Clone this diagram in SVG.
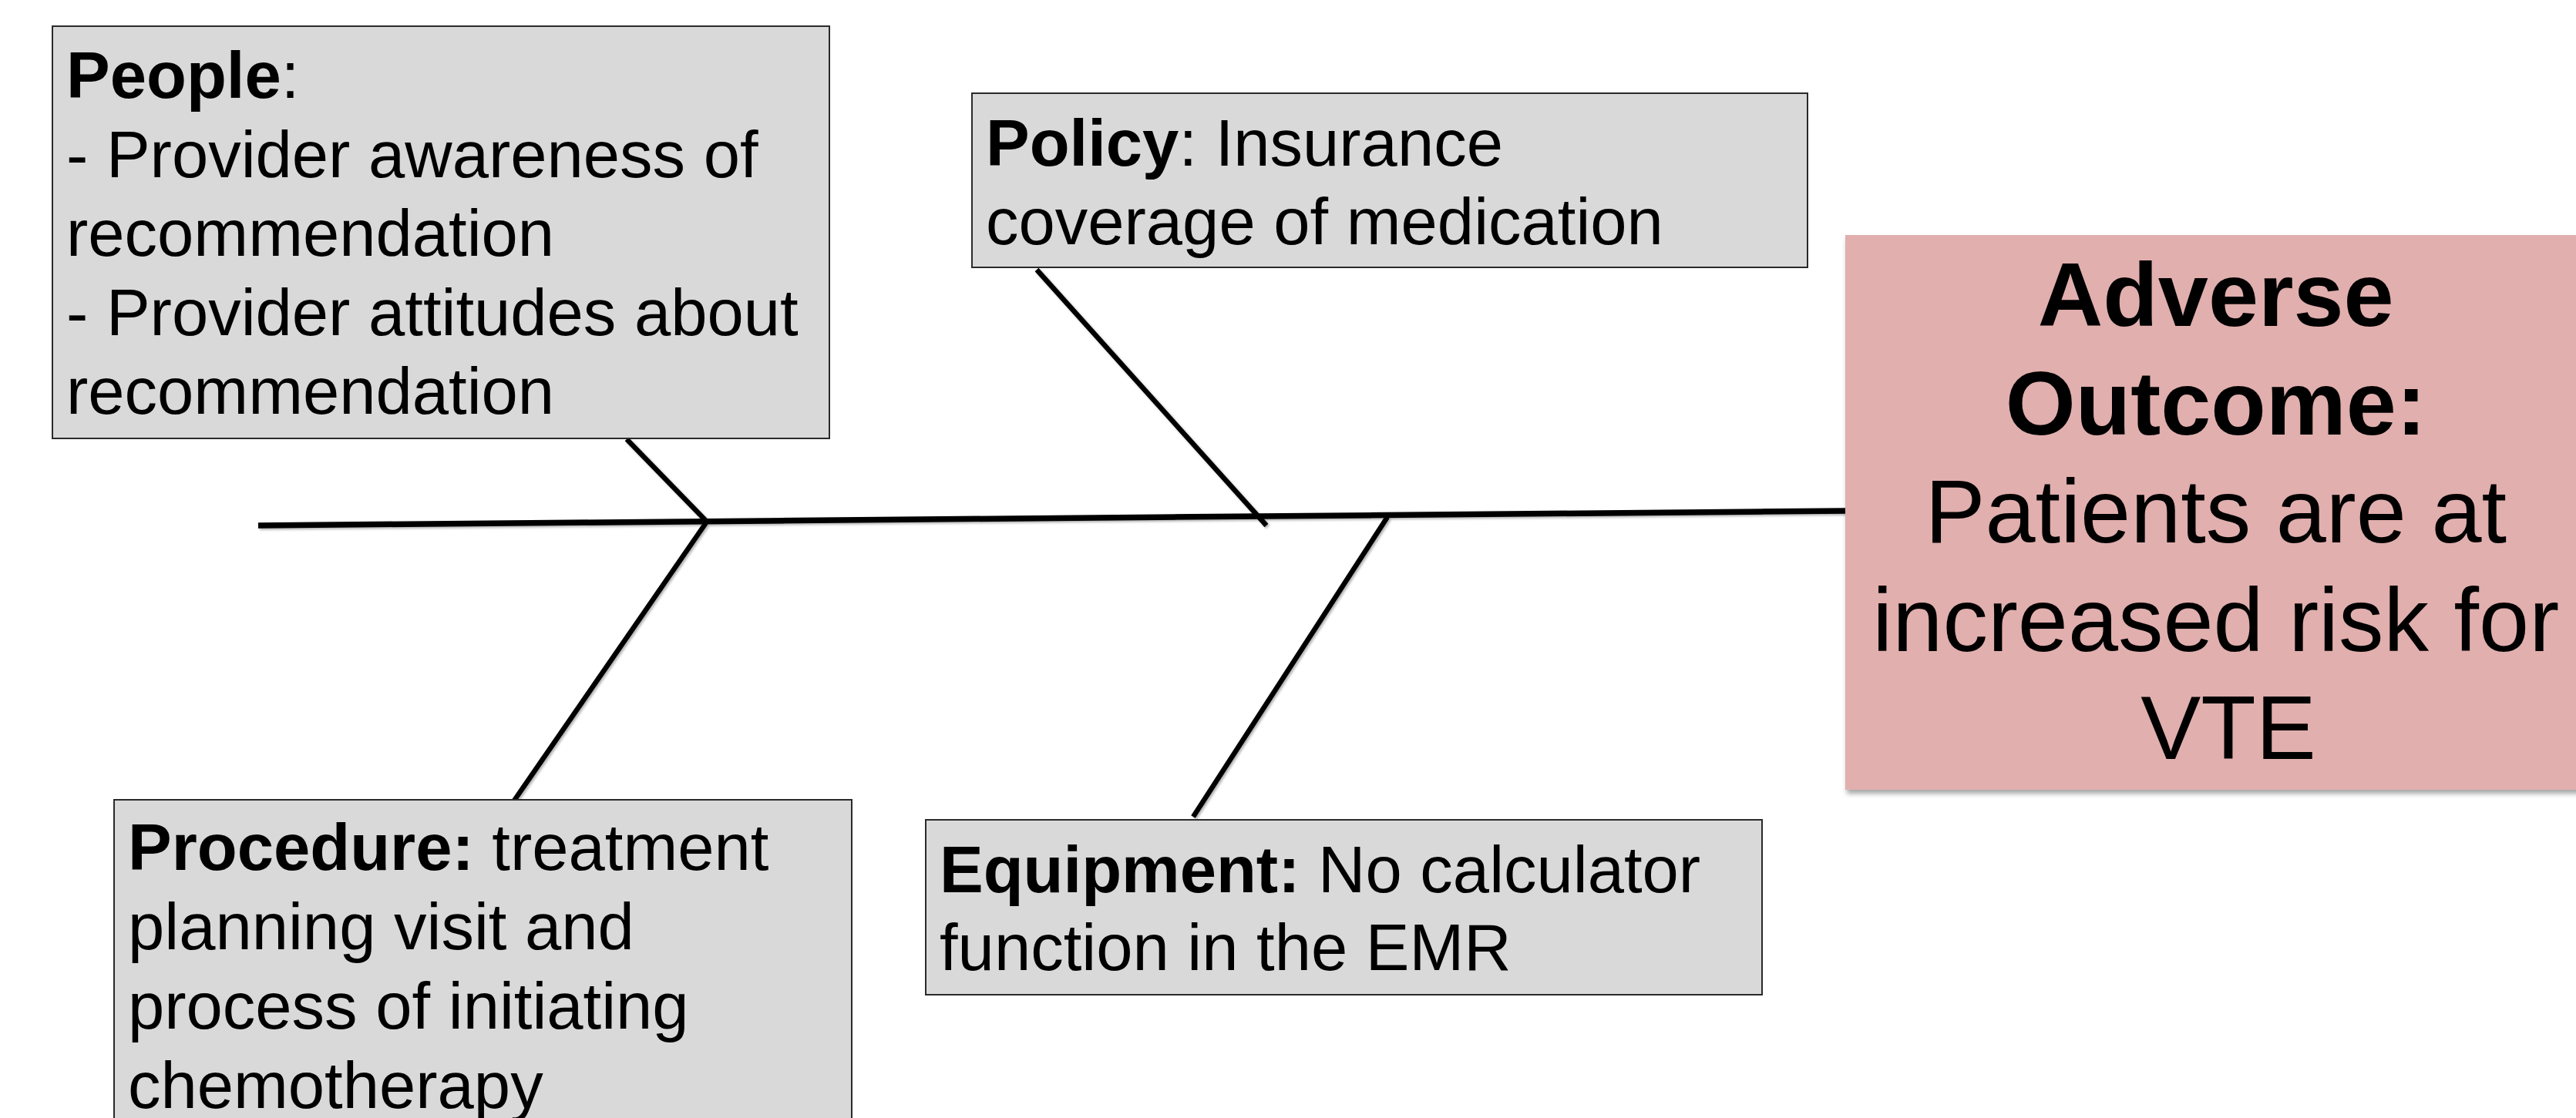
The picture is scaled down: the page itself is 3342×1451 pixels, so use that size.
<svg xmlns="http://www.w3.org/2000/svg" width="3342" height="1451" viewBox="0 0 3342 1451">
  <defs>
    <filter id="shadow" x="-5%" y="-5%" width="110%" height="115%">
      <feDropShadow dx="2" dy="5" stdDeviation="3" flood-color="#000" flood-opacity="0.35"/>
    </filter>
    <filter id="lineShadow" x="-10%" y="-10%" width="120%" height="120%">
      <feDropShadow dx="2" dy="2" stdDeviation="1.5" flood-color="#000" flood-opacity="0.3"/>
    </filter>
  </defs>
  <style>
    .box { fill: #D9D9D9; stroke: #2a2a2a; stroke-width: 2; }
    .outcome { fill: #E1AFAE; }
    .t { font-family: "Liberation Sans", Arial, sans-serif; font-size: 85px; fill: #000; }
    .big { font-family: "Liberation Sans", Arial, sans-serif; font-size: 117px; fill: #000; text-anchor: middle; }
    .b { font-weight: bold; }
    .spine { stroke: #000; stroke-width: 7.5; fill: none; }
    .bone { stroke: #000; stroke-width: 6.5; fill: none; }
  </style>
  <rect width="3342" height="1451" fill="#fff"/>

  <g id="connectors" filter="url(#lineShadow)">
    <line class="spine" x1="335" y1="682" x2="2394" y2="663"/>
    <line class="bone" x1="813" y1="570" x2="917" y2="677"/>
    <line class="bone" x1="917" y1="677" x2="667" y2="1039"/>
    <line class="bone" x1="1345" y1="350" x2="1643" y2="682"/>
    <line class="bone" x1="1800" y1="671" x2="1548" y2="1060"/>
  </g>

  <g id="people">
    <rect class="box" x="68" y="34" width="1008" height="535"/>
    <text class="t">
      <tspan x="86" y="127"><tspan class="b">People</tspan>:</tspan>
      <tspan x="86" y="229.5">- Provider awareness of</tspan>
      <tspan x="86" y="332">recommendation</tspan>
      <tspan x="86" y="434.5">- Provider attitudes about</tspan>
      <tspan x="86" y="537">recommendation</tspan>
    </text>
  </g>

  <g id="policy">
    <rect class="box" x="1261" y="121" width="1084" height="226"/>
    <text class="t">
      <tspan x="1279" y="215"><tspan class="b">Policy</tspan>: Insurance</tspan>
      <tspan x="1279" y="317">coverage of medication</tspan>
    </text>
  </g>

  <g id="procedure">
    <rect class="box" x="148" y="1038" width="957" height="430"/>
    <text class="t">
      <tspan x="166" y="1129"><tspan class="b">Procedure:</tspan> treatment</tspan>
      <tspan x="166" y="1232">planning visit and</tspan>
      <tspan x="166" y="1335">process of initiating</tspan>
      <tspan x="166" y="1438">chemotherapy</tspan>
    </text>
  </g>

  <g id="equipment">
    <rect class="box" x="1201" y="1064" width="1085" height="227"/>
    <text class="t">
      <tspan x="1219" y="1158"><tspan class="b">Equipment:</tspan> No calculator</tspan>
      <tspan x="1219" y="1259">function in the EMR</tspan>
    </text>
  </g>

  <g id="outcome">
    <rect class="outcome" x="2394" y="305" width="980" height="720" filter="url(#shadow)"/>
    <text class="big">
      <tspan class="b" x="2891" y="423">Adverse</tspan>
      <tspan class="b" x="2891" y="564">Outcome:</tspan>
      <tspan x="2891" y="704">Patients are at</tspan>
      <tspan x="2891" y="845">increased risk for</tspan>
      <tspan x="2891" y="985">VTE</tspan>
    </text>
  </g>
</svg>
